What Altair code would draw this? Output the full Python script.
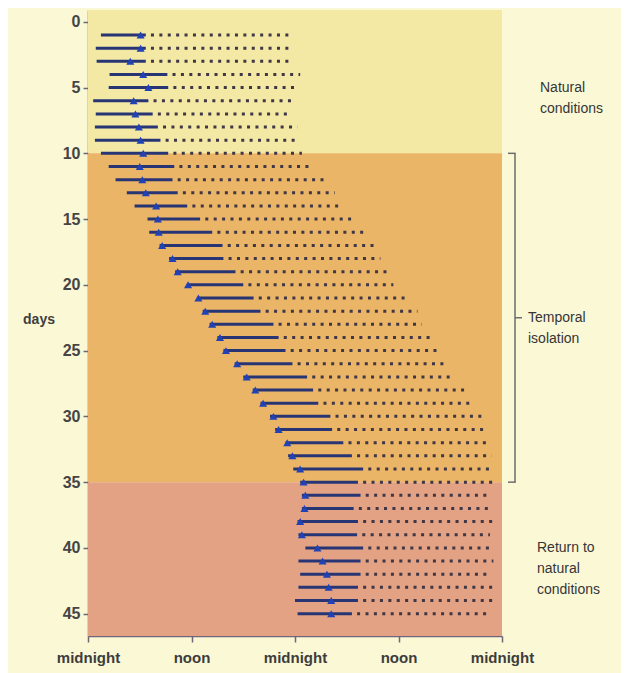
import altair as alt
import pandas as pd

# ---- data (hours from first midnight, per day) ----
DAYS = list(range(1, 46))
SLEEP_ON = [1.5, 0.9, 1.0, 2.5, 2.4, 0.6, 0.9, 0.8, 0.8, 1.5,
            2.4, 3.2, 4.5, 5.4, 6.9, 7.1, 8.3, 9.4, 10.1, 11.5,
            12.7, 13.3, 14.1, 15.0, 15.7, 17.0, 18.0, 19.1, 20.0, 21.1,
            21.7, 22.9, 23.2, 23.8, 24.6, 24.8, 24.8, 24.3, 24.4, 25.2,
            24.4, 24.6, 24.4, 24.0, 24.3]
TEMP_MIN = [6.1, 6.1, 4.9, 6.4, 7.0, 5.3, 5.5, 5.9, 6.1, 6.4,
            6.0, 6.3, 6.7, 7.9, 8.1, 8.2, 8.6, 9.8, 10.4, 11.6,
            12.8, 13.6, 14.4, 15.3, 16.0, 17.3, 18.4, 19.4, 20.3, 21.5,
            22.1, 23.1, 23.7, 24.6, 25.0, 25.2, 25.1, 24.6, 24.8, 26.6,
            27.2, 27.7, 27.9, 28.2, 28.2]
SLEEP_OFF = [6.7, 6.7, 6.7, 9.2, 9.3, 7.0, 7.5, 8.1, 8.4, 9.3,
             10.0, 9.8, 10.4, 11.5, 13.0, 14.4, 15.6, 15.7, 17.1, 18.0,
             19.2, 20.0, 21.5, 22.1, 22.9, 23.7, 25.4, 26.1, 26.7, 28.1,
             28.3, 29.6, 30.6, 31.9, 31.3, 31.6, 30.8, 31.3, 31.2, 31.9,
             31.6, 31.6, 31.3, 31.3, 30.6]
WAKE_OFF = [23.7, 23.6, 23.6, 24.6, 24.3, 24.0, 23.5, 24.3, 24.3, 24.8,
            26.1, 27.7, 28.6, 29.2, 30.8, 32.4, 33.3, 33.9, 35.0, 35.4,
            37.0, 38.2, 38.7, 39.9, 40.6, 41.6, 42.2, 43.7, 44.6, 45.8,
            46.4, 46.6, 46.8, 46.8, 47.4, 46.6, 46.6, 47.2, 46.6, 46.6,
            47.0, 46.6, 47.0, 47.0, 46.6]

PHASES = ["Natural conditions", "Temporal isolation", "Return to natural conditions"]
PHASE_START = [-0.9, 10, 35]
PHASE_END = [10, 35, 46.7]
PHASE_COLORS = ["#F3E8A4", "#EAB567", "#E2A283"]

X_TICKS = [0, 12, 24, 36, 48]
X_LABELS = ["midnight", "noon", "midnight", "noon", "midnight"]
Y_TICKS = list(range(0, 46, 5))

ANNOT_TEXT = ["Natural\nconditions", "Temporal\nisolation", "Return to\nnatural\nconditions"]
ANNOT_DAY = [5.05, 22.5, 40.0]
ANNOT_X = [452, 440, 449]

GAP = 0.6  # gap between solid and dotted segment (hours)

rows = pd.DataFrame({"day": DAYS, "s": SLEEP_ON, "t": TEMP_MIN,
                     "e": SLEEP_OFF, "w": WAKE_OFF})
bands = pd.DataFrame({"phase": PHASES, "y0": PHASE_START, "y1": PHASE_END})
annots = pd.DataFrame({"txt": ANNOT_TEXT, "d": ANNOT_DAY, "px": ANNOT_X})

FONT = "Liberation Sans"
AXIS_COL = "#6f6679"

label_expr = " : ".join(
    [f"datum.value == {v} ? '{l}'" for v, l in zip(X_TICKS, X_LABELS)]) + " : ''"

xscale = alt.Scale(domain=[0, 48], nice=False, zero=False)
yscale = alt.Scale(domain=[PHASE_START[0], PHASE_END[-1]], nice=False, zero=False,
                   reverse=True)

xaxis = alt.Axis(values=X_TICKS, labelExpr=label_expr, title=None, grid=False,
                 domainColor=AXIS_COL, domainWidth=1.5, tickColor=AXIS_COL,
                 tickWidth=1.5, tickSize=6, labelFont=FONT, labelFontSize=15,
                 labelFontWeight="bold", labelColor="#3d3d3d", labelPadding=8,
                 labelFlush=False)
yaxis = alt.Axis(values=Y_TICKS, title=None, grid=False, domainColor=AXIS_COL,
                 domainWidth=1.5, tickColor=AXIS_COL, tickWidth=1.5, tickSize=5,
                 labelFont=FONT, labelFontSize=16, labelFontWeight="bold",
                 labelColor="#454545", labelPadding=3)


def X(field):
    return alt.X(field, type="quantitative", scale=xscale, axis=xaxis)


def Y(field):
    return alt.Y(field, type="quantitative", scale=yscale, axis=yaxis)


band_layer = alt.Chart(bands).mark_rect().encode(
    x=alt.value(0), x2=alt.value(414),
    y=Y("y0"), y2="y1",
    color=alt.Color("phase:N", scale=alt.Scale(domain=PHASES, range=PHASE_COLORS),
                    legend=None),
)

dots = alt.Chart(rows).transform_calculate(
    ds=f"datum.e + {GAP}"
).mark_rule(strokeWidth=3, strokeDash=[3, 5.4], color="#3f3646",
            strokeCap="butt").encode(
    x=X("ds"), x2="w", y=Y("day")
)

solid = alt.Chart(rows).mark_rule(strokeWidth=3, color="#283575").encode(
    x=X("s"), x2="e", y=Y("day")
)

tri = alt.Chart(rows).mark_point(shape="triangle-up", filled=True, size=65,
                                 color="#2142b5", opacity=1).encode(
    x=X("t"), y=Y("day")
)

br_df = pd.DataFrame({"a": [PHASE_START[1]], "b": [PHASE_END[1]],
                      "m": [(PHASE_START[1] + PHASE_END[1]) / 2]})
BR_COL = "#6d6d6d"
br_v = alt.Chart(br_df).mark_rule(color=BR_COL, strokeWidth=1.5).encode(
    x=alt.value(427), y=Y("a"), y2="b")
br_top = alt.Chart(br_df).mark_rule(color=BR_COL, strokeWidth=1.5).encode(
    x=alt.value(420), x2=alt.value(427.7), y=Y("a"))
br_bot = alt.Chart(br_df).mark_rule(color=BR_COL, strokeWidth=1.5).encode(
    x=alt.value(420), x2=alt.value(427.7), y=Y("b"))
br_mid = alt.Chart(br_df).mark_rule(color=BR_COL, strokeWidth=1.5).encode(
    x=alt.value(427), x2=alt.value(434), y=Y("m"))

text = alt.Chart(annots).mark_text(align="left", baseline="middle", font=FONT,
                                   fontSize=14, color="#363636", lineBreak="\n",
                                   lineHeight=21).encode(
    x=alt.X("px:Q", scale=None), y=Y("d"), text="txt:N")

days_lbl = alt.Chart(pd.DataFrame({"t": ["days"], "d": [22.7]})).mark_text(
    align="center", baseline="middle", font=FONT, fontSize=14,
    fontWeight="bold", color="#3f3f3f").encode(
    x=alt.value(-49), y=Y("d"), text="t:N")

chart = alt.layer(band_layer, dots, solid, tri, br_v, br_top, br_bot, br_mid,
                  text, days_lbl).properties(
    width=414, height=626,
    background="#FBF8D6",
    padding={"left": 80, "top": 2, "right": 119, "bottom": 37},
    autosize=alt.AutoSizeParams(type="none"),
).configure_view(stroke=None)

chart.save("out.html", embed_options={"renderer": "svg", "actions": False})
